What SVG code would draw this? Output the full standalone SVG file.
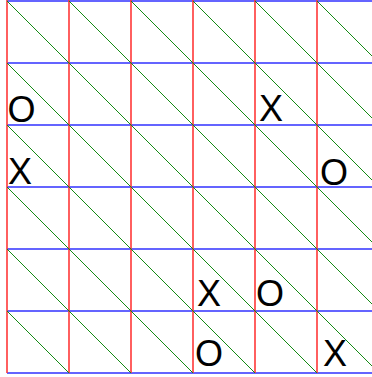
<svg xmlns="http://www.w3.org/2000/svg" width="372" height="377" viewBox="0 0 372 377">
<style>
.h{stroke:#3030ff;stroke-width:1.6}
.v{stroke:#ff3838;stroke-width:1.6}
.d{stroke:#148a14;stroke-width:1}
.m{font-family:"Liberation Sans",Arial,sans-serif;font-size:36px;fill:#000}
</style>
<defs><clipPath id="c"><rect x="7" y="1" width="365" height="372"/></clipPath></defs>
<rect width="372" height="377" fill="#fff"/>
<g id="connectors">
<g id="hlines">
<line class="h" x1="7" y1="1" x2="372" y2="1"/>
<line class="h" x1="7" y1="63" x2="372" y2="63"/>
<line class="h" x1="7" y1="125" x2="372" y2="125"/>
<line class="h" x1="7" y1="187" x2="372" y2="187"/>
<line class="h" x1="7" y1="249" x2="372" y2="249"/>
<line class="h" x1="7" y1="311" x2="372" y2="311"/>
<line class="h" x1="7" y1="373" x2="372" y2="373"/>
</g>
<g id="vlines">
<line class="v" x1="7" y1="0" x2="7" y2="373"/>
<line class="v" x1="69" y1="0" x2="69" y2="373"/>
<line class="v" x1="131" y1="0" x2="131" y2="373"/>
<line class="v" x1="193" y1="0" x2="193" y2="373"/>
<line class="v" x1="255" y1="0" x2="255" y2="373"/>
<line class="v" x1="317" y1="0" x2="317" y2="373"/>
</g>
<g id="diagonals" clip-path="url(#c)">
<line class="d" x1="7" y1="1" x2="379" y2="373"/>
<line class="d" x1="69" y1="1" x2="441" y2="373"/>
<line class="d" x1="131" y1="1" x2="503" y2="373"/>
<line class="d" x1="193" y1="1" x2="565" y2="373"/>
<line class="d" x1="255" y1="1" x2="627" y2="373"/>
<line class="d" x1="317" y1="1" x2="689" y2="373"/>
<line class="d" x1="7" y1="63" x2="317" y2="373"/>
<line class="d" x1="7" y1="125" x2="255" y2="373"/>
<line class="d" x1="7" y1="187" x2="193" y2="373"/>
<line class="d" x1="7" y1="249" x2="131" y2="373"/>
<line class="d" x1="7" y1="311" x2="69" y2="373"/>
</g>
</g>
<g id="n1"><text class="m" x="7.5" y="121.5">O</text></g>
<g id="n2"><text class="m" x="259" y="121">X</text></g>
<g id="n3"><text class="m" x="8" y="184">X</text></g>
<g id="n4"><text class="m" x="320" y="184.5">O</text></g>
<g id="n5"><text class="m" x="197" y="306">X</text></g>
<g id="n6"><text class="m" x="256" y="306">O</text></g>
<g id="n7"><text class="m" x="195" y="366">O</text></g>
<g id="n8"><text class="m" x="323" y="365.5">X</text></g>
</svg>
